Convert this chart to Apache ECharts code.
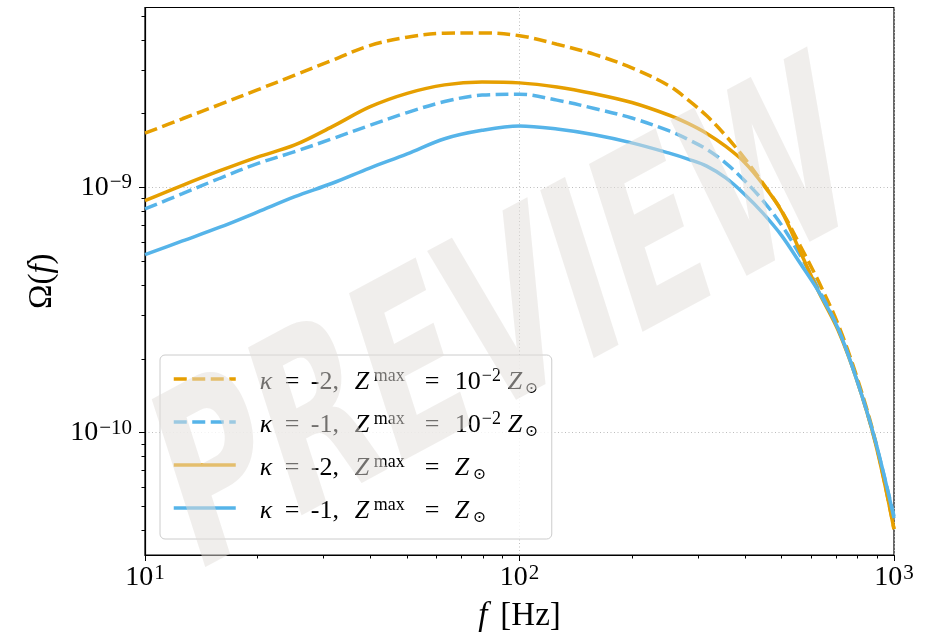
<!DOCTYPE html>
<html>
<head>
<meta charset="utf-8">
<script src="https://cdn.jsdelivr.net/npm/echarts@6/dist/echarts.min.js"></script>
<style>html,body{margin:0;padding:0;background:#fff}#c{width:935px;height:638px}</style>
</head>
<body>
<div id="c"></div>
<script>
// ---- data ----
const freq = [10, 12.59, 15.85, 19.95, 25.12, 31.62, 39.81, 50.12, 63.1, 79.43, 100, 125.9, 158.5, 199.5, 251.2, 281.8, 316.2, 354.8, 398.1, 446.7, 501.2, 562.3, 631, 707.9, 794.3, 891.3, 1000];
// kappa = -2, Zmax = 1e-2 Zsun (orange dashed)
const omegaK2Low = [1.665e-9, 1.906e-9, 2.18e-9, 2.50e-9, 2.87e-9, 3.30e-9, 3.79e-9, 4.10e-9, 4.26e-9, 4.27e-9, 4.16e-9, 3.84e-9, 3.49e-9, 3.073e-9, 2.595e-9, 2.276e-9, 1.96e-9, 1.63e-9, 1.32e-9, 1.04e-9, 8.03e-10, 5.77e-10, 4.09e-10, 2.78e-10, 1.70e-10, 9.29e-11, 4.04e-11];
// kappa = -1, Zmax = 1e-2 Zsun (blue dashed)
const omegaK1Low = [8.17e-10, 9.43e-10, 1.09e-9, 1.25e-9, 1.40e-9, 1.58e-9, 1.79e-9, 2.02e-9, 2.24e-9, 2.38e-9, 2.40e-9, 2.27e-9, 2.10e-9, 1.92e-9, 1.70e-9, 1.57e-9, 1.43e-9, 1.26e-9, 1.07e-9, 8.84e-10, 7.01e-10, 5.27e-10, 3.81e-10, 2.67e-10, 1.66e-10, 9.20e-11, 4.56e-11];
// kappa = -2, Zmax = Zsun (orange solid)
const omegaK2Sun = [8.83e-10, 1.02e-9, 1.17e-9, 1.33e-9, 1.49e-9, 1.77e-9, 2.13e-9, 2.42e-9, 2.62e-9, 2.69e-9, 2.67e-9, 2.57e-9, 2.41e-9, 2.22e-9, 1.97e-9, 1.824e-9, 1.66e-9, 1.473e-9, 1.27e-9, 1.03e-9, 7.99e-10, 5.45e-10, 3.72e-10, 2.63e-10, 1.65e-10, 9.11e-11, 4.04e-11];
// kappa = -1, Zmax = Zsun (blue solid)
const omegaK1Sun = [5.32e-10, 6.05e-10, 6.88e-10, 7.93e-10, 9.17e-10, 1.04e-9, 1.20e-9, 1.37e-9, 1.58e-9, 1.71e-9, 1.78e-9, 1.73e-9, 1.64e-9, 1.52e-9, 1.38e-9, 1.305e-9, 1.222e-9, 1.096e-9, 9.41e-10, 7.86e-10, 6.36e-10, 4.89e-10, 3.73e-10, 2.67e-10, 1.65e-10, 9.28e-11, 4.48e-11];

const xMajor = [10, 100, 1000];
const xMinor = [20, 30, 40, 50, 60, 70, 80, 90, 200, 300, 400, 500, 600, 700, 800, 900];
const yMajor = [1e-10, 1e-9];
const yMinor = [4e-11, 5e-11, 6e-11, 7e-11, 8e-11, 9e-11, 2e-10, 3e-10, 4e-10, 5e-10, 6e-10, 7e-10, 8e-10, 9e-10, 2e-9, 3e-9, 4e-9, 5e-9];

const seriesNames = [
  'κ = -2, Z^max = 10^-2 Z⊙',
  'κ = -1, Z^max = 10^-2 Z⊙',
  'κ = -2, Z^max = Z⊙',
  'κ = -1, Z^max = Z⊙'
];
const legendRich = {
  'κ = -2, Z^max = 10^-2 Z⊙': '{sp| }{k|κ}{eq|=}{n|-2,}{z|Z}{mx|max}{eq2|=}{ten|10}{ex|\u22122}{z2|Z}{sub|⊙}',
  'κ = -1, Z^max = 10^-2 Z⊙': '{sp| }{k|κ}{eq|=}{n|-1,}{z|Z}{mx|max}{eq2|=}{ten|10}{ex|\u22122}{z2|Z}{sub|⊙}',
  'κ = -2, Z^max = Z⊙': '{sp| }{k|κ}{eq|=}{n|-2,}{z|Z}{mx|max}{eq2|=}{z3|Z}{sub|⊙}',
  'κ = -1, Z^max = Z⊙': '{sp| }{k|κ}{eq|=}{n|-1,}{z|Z}{mx|max}{eq2|=}{z3|Z}{sub|⊙}'
};

const ORANGE = '#E69F00';
const BLUE = '#56B4E9';
const SERIF = '"Liberation Serif", "DejaVu Serif", serif';

function powLabel(v) {
  const e = Math.round(Math.log10(v));
  return '{b|10}{s|' + (e < 0 ? '\u2212' + (-e) : String(e)) + '}';
}
const tickRich = {
  b: {fontFamily: SERIF, fontSize: 28, lineHeight: 30, color: '#000'},
  s: {fontFamily: SERIF, fontSize: 21, lineHeight: 20, verticalAlign: 'top', color: '#000', padding: [0, 0, 0, 1]}
};

function mk(name, vals, color, dashed) {
  return {
    name: name,
    type: 'line',
    data: freq.map((f, i) => [f, vals[i]]),
    symbol: 'none',
    showSymbol: false,
    smooth: 0.35,
    clip: true,
    lineStyle: {color: color, width: 3.5, type: dashed ? [13, 5.5] : 'solid', cap: 'butt'},
    itemStyle: {color: color},
    emphasis: {disabled: true}
  };
}

const T = {fontFamily: SERIF, fontSize: 26, lineHeight: 30, color: '#000', align: 'left'};
const TI = Object.assign({}, T, {fontStyle: 'italic'});
const SUP = {fontFamily: SERIF, fontSize: 18, lineHeight: 17, verticalAlign: 'top', color: '#000', align: 'left'};
function tk(base, w) { return Object.assign({}, base, {width: w}); }

const chart = echarts.init(document.getElementById('c'), null, {renderer: 'canvas'});
chart.setOption({
  animation: false,
  backgroundColor: '#fff',
  grid: {left: 145, right: 41, top: 7.5, bottom: 82, show: true, borderColor: '#000', borderWidth: 1.2, backgroundColor: 'transparent'},
  xAxis: [{
    type: 'log', logBase: 10, min: 10, max: 1000,
    axisLine: {show: true, lineStyle: {color: '#000', width: 1.2}},
    axisTick: {show: true, customValues: xMajor, length: 6, lineStyle: {color: '#000', width: 1}},
    axisLabel: {show: true, customValues: xMajor, formatter: powLabel, rich: tickRich, margin: 8},
    splitLine: {show: true, lineStyle: {color: '#bdbdbd', width: 1, type: [1, 2.5]}},
    name: '{i|f}{sp| }{t|[Hz]}', nameLocation: 'middle', nameGap: 45,
    nameTextStyle: {
      rich: {
        i: {fontFamily: SERIF, fontStyle: 'italic', fontSize: 33, color: '#000'},
        sp: {width: 13, fontSize: 10},
        t: {fontFamily: SERIF, fontSize: 33, color: '#000'}
      },
      fontFamily: SERIF, fontSize: 33, color: '#000'
    }
  }, {
    type: 'log', logBase: 10, min: 10, max: 1000, position: 'bottom',
    axisLine: {show: false},
    axisTick: {show: true, customValues: xMinor, length: 3.5, lineStyle: {color: '#000', width: 1}},
    axisLabel: {show: false},
    splitLine: {show: false}
  }],
  yAxis: [{
    type: 'log', logBase: 10, min: 3.166e-11, max: 5.42e-9,
    axisLine: {show: true, lineStyle: {color: '#000', width: 1.2}},
    axisTick: {show: true, customValues: yMajor, length: 6, lineStyle: {color: '#000', width: 1}},
    axisLabel: {show: true, customValues: yMajor, formatter: powLabel, rich: tickRich, margin: 13},
    splitLine: {show: true, lineStyle: {color: '#bdbdbd', width: 1, type: [1, 2.5]}},
    name: '{t|Ω(}{i|f}{t|)}', nameLocation: 'middle', nameGap: 85, nameRotate: 90,
    nameTextStyle: {
      rich: {
        i: {fontFamily: SERIF, fontStyle: 'italic', fontSize: 33, color: '#000'},
        t: {fontFamily: SERIF, fontSize: 33, color: '#000'}
      },
      fontFamily: SERIF, fontSize: 33, color: '#000'
    }
  }, {
    type: 'log', logBase: 10, min: 3.166e-11, max: 5.42e-9, position: 'left',
    axisLine: {show: false},
    axisTick: {show: true, customValues: yMinor, length: 3.5, lineStyle: {color: '#000', width: 1}},
    axisLabel: {show: false},
    splitLine: {show: false}
  }],
  legend: {
    data: seriesNames,
    orient: 'vertical',
    left: 160, top: 355,
    padding: [12, 10, 13, 12],
    itemGap: 13,
    itemWidth: 62, itemHeight: 14,
    backgroundColor: 'rgba(255,255,255,0.8)',
    borderColor: '#cccccc', borderWidth: 1, borderRadius: 5,
    selectedMode: false,
    itemStyle: {color: 'rgba(0,0,0,0)', borderWidth: 0, opacity: 0},
    lineStyle: {width: 3.5},
    formatter: function (name) { return legendRich[name]; },
    textStyle: {
      color: '#000',
      padding: [6, 0, 0, 0],
      rich: {
        sp: {width: 19, fontSize: 10, align: 'left'},
        k: tk(TI, 25),
        eq: tk(T, 26),
        n: tk(T, 44),
        z: tk(TI, 19),
        mx: tk(SUP, 51),
        eq2: tk(T, 30),
        ten: tk(T, 27),
        ex: tk(SUP, 26),
        z2: tk(TI, 17),
        z3: tk(TI, 18),
        sub: {fontFamily: '"DejaVu Serif", serif', fontSize: 16, lineHeight: 18, verticalAlign: 'bottom', color: '#000', width: 17, align: 'left'}
      }
    }
  },
  graphic: [{
    type: 'group',
    x: 510, y: 333,
    scaleY: 1.3,
    z: 100,
    silent: true,
    children: [{
      type: 'text',
      x: 0, y: 0,
      rotation: 22.5 * Math.PI / 180,
      scaleY: 1.35,
      z: 100,
      silent: true,
      style: {
        text: 'PREVIEW',
        fontFamily: '"DejaVu Sans", sans-serif',
        fontWeight: 'bold',
        fontSize: 142,
        fill: 'rgba(226,222,218,0.5)',
        align: 'center',
        verticalAlign: 'middle'
      }
    }]
  }],
  series: [
    mk(seriesNames[0], omegaK2Low, ORANGE, true),
    mk(seriesNames[1], omegaK1Low, BLUE, true),
    mk(seriesNames[2], omegaK2Sun, ORANGE, false),
    mk(seriesNames[3], omegaK1Sun, BLUE, false)
  ]
});
</script>
</body>
</html>
